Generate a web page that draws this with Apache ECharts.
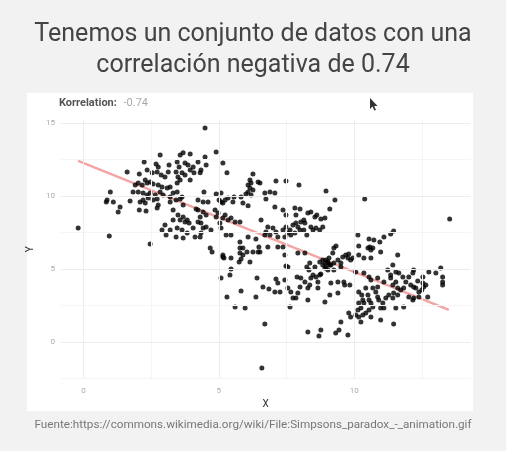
<!DOCTYPE html>
<html lang="es">
<head>
<meta charset="UTF-8">
<title>Correlación negativa</title>
<script src="https://cdn.jsdelivr.net/npm/echarts@6/dist/echarts.min.js"></script>
<style>
  html, body { margin: 0; padding: 0; background: #f2f2f2; }
  #main { width: 506px; height: 451px; }
</style>
</head>
<body>
<div id="main"></div>
<script>
// puntos, por zonas
var pointsA = [[-0.20,7.81],[0.95,7.26],[2.46,6.71],[2.83,12.81],[2.24,12.33],[2.68,12.19],[2.76,11.99],[3.16,12.12],[3.57,12.81],[3.68,12.95],[3.94,12.88],[3.46,12.33],[3.53,11.99],[3.75,12.26],[3.86,12.12],[4.05,11.99],[1.61,11.64],[2.06,11.51],[2.35,11.78],[2.54,11.58],[2.72,11.64],[2.87,11.44],[3.01,11.30],[3.13,11.64],[3.42,11.64],[3.49,11.30],[3.64,11.58],[3.75,11.44],[3.94,11.78],[4.08,11.58],[2.28,11.10],[2.35,10.89],[2.46,10.96],[2.57,10.82],[2.76,10.75],[2.90,10.62],[3.09,10.55],[3.20,10.62],[3.46,10.89],[3.57,11.10],[3.94,11.10],[1.91,10.75],[2.02,10.89],[2.17,10.75],[1.83,10.27],[2.02,10.27],[2.20,10.21],[2.35,10.07],[2.46,10.21],[2.65,10.07],[2.83,10.27],[2.94,10.07],[3.20,9.93],[3.31,10.21],[3.46,10.27],[3.64,9.93],[0.99,10.27],[0.87,9.73],[1.10,9.59],[0.84,9.59],[1.72,9.66],[2.09,9.59],[2.20,9.73],[2.39,9.86],[2.57,9.73],[2.72,9.79],[2.28,9.52],[2.76,9.38],[3.20,9.59],[3.42,9.73],[3.57,9.79],[1.35,9.25],[1.28,8.90],[2.06,9.04],[2.31,8.97],[2.72,9.18],[3.31,9.04],[3.68,9.38],[4.16,9.11],[3.49,8.70],[3.68,8.56],[3.83,8.36],[3.57,8.36],[3.75,8.22],[3.90,8.15],[3.31,8.36],[3.01,8.01],[3.20,7.67],[3.46,7.81],[3.64,7.67],[3.83,7.47],[4.05,7.81],[2.90,7.67],[3.05,7.33],[3.42,7.19],[3.68,7.12],[4.12,7.19]];
var pointsB = [[4.49,14.66],[4.90,13.01],[4.49,12.67],[4.53,12.12],[4.23,12.33],[4.34,11.78],[4.31,11.58],[5.15,12.26],[5.30,11.58],[4.45,10.27],[4.90,10.14],[5.08,10.21],[5.01,9.73],[5.08,9.59],[5.23,9.73],[5.34,9.86],[5.15,9.52],[5.56,9.93],[5.52,9.59],[5.82,9.93],[5.89,9.52],[6.08,9.32],[4.23,9.73],[4.42,9.59],[4.60,9.59],[4.23,9.04],[4.42,8.90],[4.53,8.70],[4.31,8.56],[4.86,9.04],[4.97,8.84],[4.90,8.56],[5.23,8.70],[5.34,8.36],[5.15,8.49],[5.45,8.49],[5.60,8.22],[5.78,8.22],[6.56,8.36],[4.23,8.22],[4.34,8.15],[4.53,7.88],[4.42,7.81],[4.71,7.67],[4.34,7.47],[4.31,7.19],[5.04,8.15],[5.08,7.81],[5.27,7.33],[5.45,7.33],[5.78,6.85],[6.08,7.19],[6.37,7.05]];
var pointsC = [[6.26,11.51],[6.15,11.10],[6.19,10.89],[6.08,10.75],[6.45,10.96],[6.52,10.89],[7.11,11.03],[7.48,11.03],[7.96,10.75],[6.15,10.55],[6.08,10.27],[6.00,10.14],[6.19,10.07],[6.26,10.41],[6.89,10.27],[7.07,10.21],[6.70,10.21],[6.74,9.79],[7.07,9.25],[7.37,9.04],[7.48,8.70],[7.81,9.18],[8.00,9.11],[7.85,8.70],[8.29,8.84],[8.40,8.90],[8.55,8.56],[8.62,8.70],[8.77,8.42],[8.92,8.49],[6.81,7.88],[7.00,7.81],[7.11,7.53],[6.89,7.33],[7.18,7.19],[6.74,7.53],[7.37,7.67],[7.48,7.88],[7.63,7.67],[7.74,8.01],[7.85,8.15],[7.92,7.88],[8.03,8.22],[8.14,8.36],[8.18,8.15],[8.00,7.67],[7.81,7.47],[7.66,7.33],[7.44,7.19],[7.55,7.47],[8.40,7.88],[8.48,7.67],[8.59,7.81],[8.73,7.67],[8.84,7.88],[8.25,7.33],[8.14,7.67],[6.70,7.33],[8.96,10.34],[9.29,9.73],[9.10,9.11],[10.39,9.79],[13.53,8.42],[10.14,7.33],[10.55,7.05],[10.73,6.99],[10.95,6.85],[11.10,7.19],[11.35,7.40],[11.46,7.60],[10.17,6.58],[10.58,6.51],[10.69,6.44]];
var pointsD = [[4.68,6.44],[4.75,6.16],[5.15,5.96],[5.19,5.75],[5.45,5.75],[5.78,6.44],[5.89,6.44],[5.78,6.10],[5.89,5.96],[5.82,5.68],[6.04,6.16],[6.26,6.16],[6.45,6.16],[6.48,6.51],[6.81,6.51],[7.18,6.51],[7.37,6.51],[7.44,5.96],[5.75,5.48],[6.15,5.48],[5.45,5.00],[5.41,4.59],[5.08,4.38],[6.41,4.38],[6.63,3.77],[6.85,3.63],[7.07,3.42],[7.26,3.42],[7.11,4.32],[7.18,4.04],[7.44,4.25],[5.82,3.49],[5.30,3.08],[6.37,3.08],[5.60,2.40],[5.97,2.33],[7.55,5.14],[7.55,3.70],[7.66,3.42],[7.74,3.01],[7.85,3.01],[7.63,2.40],[7.89,4.45],[8.03,4.38],[8.00,3.77],[7.92,3.36],[8.29,2.88],[8.18,4.11],[8.29,3.70],[8.36,3.90],[8.40,4.38],[8.48,4.59],[8.59,4.45],[8.66,4.11],[8.66,3.70],[8.73,4.59],[8.77,4.66],[8.25,5.14],[8.33,4.93],[8.55,5.14],[8.84,5.27],[8.92,5.07],[8.84,5.62],[8.92,5.41],[7.92,6.10],[8.18,6.10],[6.70,1.23],[8.29,0.68],[8.77,0.82],[8.70,0.41],[6.59,-1.78],[8.92,2.74],[6.52,6.16],[7.48,5.21],[8.36,5.41],[8.73,5.48],[9.03,5.48],[9.10,5.27],[5.15,5.82]];
var pointsE = [[9.25,6.44],[9.21,6.10],[9.07,5.75],[8.96,5.62],[9.03,5.41],[9.14,5.27],[8.96,5.14],[9.25,5.41],[9.40,5.62],[9.51,5.41],[9.51,5.14],[9.25,4.93],[9.03,4.93],[9.58,5.82],[9.69,5.96],[9.80,6.03],[9.95,5.75],[9.77,5.75],[9.87,5.62],[10.51,6.44],[10.62,6.30],[10.98,6.16],[10.17,5.96],[10.36,5.75],[10.62,5.75],[11.61,5.96],[11.43,5.27],[11.24,4.93],[11.35,4.59],[11.54,4.79],[11.65,4.73],[11.80,4.45],[11.35,4.38],[10.06,4.79],[10.36,4.73],[10.55,4.45],[10.62,4.25],[10.87,4.38],[12.20,4.93],[12.17,4.73],[12.02,4.45],[11.91,4.11],[12.09,3.90],[12.20,3.77],[12.28,3.70],[12.54,4.04],[12.57,3.77],[12.50,3.56],[12.39,3.42],[12.76,4.79],[13.02,4.73],[13.20,5.07],[13.27,4.45],[13.27,3.90],[9.14,4.04],[9.40,4.11],[9.62,4.11],[9.65,3.90],[9.84,3.90],[9.10,3.22],[9.40,3.36],[10.17,3.42],[10.28,3.22],[10.32,2.88],[10.43,3.70],[10.51,3.22],[10.36,2.67],[10.17,2.67],[10.25,2.33],[10.55,2.88],[10.62,2.67],[10.69,2.40],[10.55,2.19],[10.43,1.99],[10.32,1.85],[10.17,1.71],[10.06,1.85],[10.25,1.37],[10.14,2.19],[10.80,3.42],[10.87,3.08],[10.91,2.88],[11.06,2.67],[10.98,2.33],[11.10,2.33],[11.17,3.01],[11.28,3.22],[11.43,3.01],[11.46,3.36],[11.61,3.22],[11.61,3.70],[11.72,3.56],[11.10,4.11],[11.43,3.90],[11.54,4.11],[10.62,1.71],[10.98,1.51],[11.46,1.23],[11.54,2.33],[11.83,2.40],[9.80,1.99],[9.87,1.71],[9.51,1.37],[9.44,0.82],[9.32,0.62],[9.77,0.48],[10.69,3.70],[10.87,3.77],[11.83,3.70],[12.02,3.08],[12.20,3.01],[12.17,2.88],[12.39,3.08],[12.72,3.08],[12.54,4.45],[12.65,3.90],[13.27,4.11],[12.35,4.18],[9.33,6.58]];

// recta de regresion (extremos leidos)
var fitLine = [[-0.2, 12.4], [13.5, 2.2]];

var xTicks = [0, 5, 10];
var yTicks = [0, 5, 10, 15];
var xMajor = [0, 5, 10];
var xMinor = [2.5, 7.5, 12.5];
var yMajor = [0, 5, 10, 15];
var yMinor = [-2.5, 2.5, 7.5, 12.5];

var allPoints = pointsA.concat(pointsB, pointsC, pointsD, pointsE);

function showTick(list, v) {
  for (var i = 0; i < list.length; i++) {
    if (Math.abs(list[i] - v) < 1e-6) return String(list[i]);
  }
  return '';
}

var gridLines = [];
xMinor.forEach(function (v) { gridLines.push({ xAxis: v, lineStyle: { color: '#f5f5f5', width: 1 } }); });
yMinor.forEach(function (v) { gridLines.push({ yAxis: v, lineStyle: { color: '#f5f5f5', width: 1 } }); });
xMajor.forEach(function (v) { gridLines.push({ xAxis: v, lineStyle: { color: '#ededed', width: 1 } }); });
yMajor.forEach(function (v) { gridLines.push({ yAxis: v, lineStyle: { color: '#ededed', width: 1 } }); });

var myChart = echarts.init(document.getElementById('main'));
myChart.setOption({
  backgroundColor: '#f2f2f2',
  animation: false,
  textStyle: { fontFamily: 'Roboto' },
  title: {
    text: 'Tenemos un conjunto de datos con una\ncorrelación negativa de 0.74',
    left: 'center',
    top: 14,
    textStyle: { fontSize: 25, lineHeight: 31, color: '#444', fontWeight: 'normal', fontFamily: 'Roboto' }
  },
  graphic: [
    { type: 'rect', z: -10, silent: true, shape: { x: 27, y: 93, width: 446, height: 318 }, style: { fill: '#ffffff' } },
    { type: 'text', left: 59, top: 97, silent: true,
      style: { text: '{a|Korrelation:}  {b|-0.74}', rich: {
        a: { fontSize: 11, fontWeight: 'bold', fill: '#555', fontFamily: 'Roboto' },
        b: { fontSize: 11, fill: '#aaa', fontFamily: 'Roboto' } } } },
    { type: 'polygon', silent: true,
      shape: { points: [[370,98],[370,109],[372.5,106.6],[374.4,110.6],[376,110],[374.2,106],[377.6,106]] },
      style: { fill: '#333' } },
    { type: 'text', left: 'center', top: 419, silent: true,
      style: { text: 'Fuente:https://commons.wikimedia.org/wiki/File:Simpsons_paradox_-_animation.gif',
        fontSize: 11.7, fill: '#777', fontFamily: 'Roboto' } }
  ],
  grid: { left: 61, right: 35.5, top: 120, bottom: 72.5, containLabel: false },
  xAxis: {
    type: 'value',
    min: -5 / 6, max: 14.3, interval: 5 / 6,
    name: 'X', nameLocation: 'middle', nameGap: 21,
    nameTextStyle: { fontSize: 10, color: '#333' },
    axisLine: { show: false }, axisTick: { show: false }, splitLine: { show: false },
    axisLabel: { fontSize: 8, color: '#aaa', margin: 8, formatter: function (v) { return showTick(xTicks, v); } }
  },
  yAxis: {
    type: 'value',
    min: -2.5, max: 15.2, interval: 2.5,
    name: 'Y', nameLocation: 'middle', nameGap: 24,
    nameTextStyle: { fontSize: 10, color: '#333' },
    axisLine: { show: false }, axisTick: { show: false }, splitLine: { show: false },
    axisLabel: { fontSize: 8, color: '#aaa', margin: 6, formatter: function (v) { return showTick(yTicks, v); } }
  },
  series: [
    {
      type: 'line',
      data: fitLine,
      z: 2,
      symbol: 'none',
      silent: true,
      lineStyle: { color: '#f3a5a5', width: 2.5 },
      markLine: {
        silent: true,
        symbol: 'none',
        label: { show: false },
        lineStyle: { type: 'solid' },
        data: gridLines
      }
    },
    {
      type: 'scatter',
      data: allPoints,
      z: 3,
      symbolSize: 5,
      itemStyle: { color: '#000' }
    }
  ]
});
</script>
</body>
</html>
